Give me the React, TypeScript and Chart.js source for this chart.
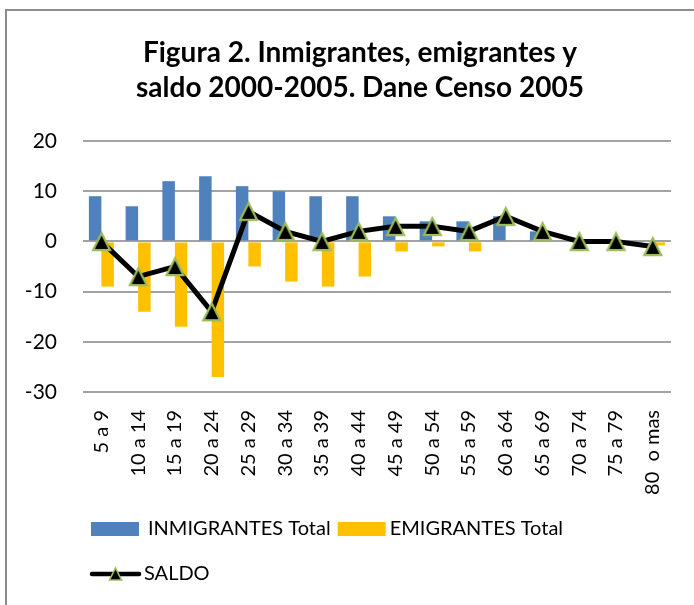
import React, { useEffect, useRef } from "react";
import { Chart, registerables } from "chart.js";

Chart.register(...registerables);

const categories = [
  "5 a 9", "10 a 14", "15 a 19", "20 a 24", "25 a 29", "30 a 34", "35 a 39", "40 a 44",
  "45 a 49", "50 a 54", "55 a 59", "60 a 64", "65 a 69", "70 a 74", "75 a 79", "80  o mas",
];
const inmigrantes = [9, 7, 12, 13, 11, 10, 9, 9, 5, 4, 4, 5, 2, 0, 0, 0];
const emigrantes = [-9, -14, -17, -27, -5, -8, -9, -7, -2, -1, -2, 0, 0, -0.5, -0.2, -0.8];
const saldo = [0, -7, -5, -14, 6, 2, 0, 2, 3, 3, 2, 5, 2, 0, 0, -1];
const yTicks = [20, 10, 0, -10, -20, -30];
const titleLines = ["Figura 2. Inmigrantes, emigrantes y", "saldo 2000-2005. Dane Censo 2005"];
const seriesNames = ["INMIGRANTES Total", "EMIGRANTES Total", "SALDO"];

const BLUE = "#4F81BD";
const YELLOW = "#FFC000";
const GREEN = "#9BBB59";
const FONT = "Lato, 'Open Sans', sans-serif";

function makeTriangle(size: number, lw: number) {
  const c = document.createElement("canvas");
  const s = size + lw * 2 + 2;
  c.width = s;
  c.height = s;
  const g = c.getContext("2d")!;
  const cx = s / 2;
  const half = size / 2;
  g.beginPath();
  g.moveTo(cx, cx - half);
  g.lineTo(cx + half, cx + half);
  g.lineTo(cx - half, cx + half);
  g.closePath();
  g.fillStyle = "#000";
  g.fill();
  g.lineWidth = lw;
  g.strokeStyle = GREEN;
  g.lineJoin = "miter";
  g.stroke();
  return c;
}

function drawTri(ctx: CanvasRenderingContext2D, x: number, y: number, size: number, lw: number) {
  const half = size / 2;
  ctx.beginPath();
  ctx.moveTo(x, y - half);
  ctx.lineTo(x + half, y + half);
  ctx.lineTo(x - half, y + half);
  ctx.closePath();
  ctx.fillStyle = "#000";
  ctx.fill();
  ctx.lineWidth = lw;
  ctx.strokeStyle = GREEN;
  ctx.stroke();
}

const legendPlugin = {
  id: "customLegend",
  afterDraw(chart: any) {
    const ctx: CanvasRenderingContext2D = chart.ctx;
    const ds = chart.data.datasets;
    ctx.save();
    ctx.font = `20px ${FONT}`;
    ctx.textBaseline = "middle";
    ctx.textAlign = "left";
    const y1 = 518;
    let x = 84;
    ctx.fillStyle = ds[0].backgroundColor;
    ctx.fillRect(x, y1 - 7, 48, 14);
    ctx.fillStyle = "#000";
    const t1x = x + 57;
    ctx.fillText(ds[0].label, t1x, y1);
    const w1 = ctx.measureText(ds[0].label).width;
    x = t1x + w1 + 7;
    ctx.fillStyle = ds[1].backgroundColor;
    ctx.fillRect(x, y1 - 7, 48, 14);
    ctx.fillStyle = "#000";
    ctx.fillText(ds[1].label, x + 52, y1);

    const y2 = 563;
    ctx.strokeStyle = ds[2].borderColor;
    ctx.lineWidth = 4.5;
    ctx.lineCap = "round";
    ctx.beginPath();
    ctx.moveTo(85, y2);
    ctx.lineTo(132, y2);
    ctx.stroke();
    drawTri(ctx, 108.5, y2, 12, 1.6);
    ctx.fillStyle = "#000";
    ctx.fillText(ds[2].label, 137, y2);
    ctx.restore();
  },
};

export default function App() {
  const ref = useRef<HTMLCanvasElement | null>(null);

  useEffect(() => {
    if (!ref.current) return;
    const tri = makeTriangle(17, 2.2);
    const chart = new Chart(ref.current, {
      type: "bar",
      data: {
        labels: categories,
        datasets: [
          {
            type: "bar",
            label: seriesNames[0],
            data: inmigrantes,
            backgroundColor: BLUE,
            categoryPercentage: 0.68,
            barPercentage: 1,
            order: 1,
          },
          {
            type: "bar",
            label: seriesNames[1],
            data: emigrantes,
            backgroundColor: YELLOW,
            categoryPercentage: 0.68,
            barPercentage: 1,
            order: 1,
          },
          {
            type: "line",
            label: seriesNames[2],
            data: saldo,
            borderColor: "#000",
            backgroundColor: "#000",
            borderWidth: 5,
            tension: 0,
            pointStyle: tri as any,
            pointRadius: 10,
            pointHoverRadius: 10,
            order: 0,
          } as any,
        ],
      },
      options: {
        responsive: false,
        animation: false,
        layout: { padding: { left: 0, right: 0, top: 0, bottom: 93 } },
        plugins: {
          legend: { display: false },
          tooltip: { enabled: false },
          title: {
            display: true,
            text: titleLines,
            color: "#000",
            font: { family: FONT, size: 28, weight: "bold", lineHeight: 1.25 },
            padding: { top: 24, bottom: 36 },
          },
        },
        scales: {
          x: {
            offset: true,
            grid: { display: false, drawTicks: false },
            border: { display: false },
            ticks: {
              autoSkip: false,
              maxRotation: 90,
              minRotation: 90,
              padding: 18,
              color: "#000",
              font: { family: FONT, size: 20 },
            },
            afterFit(scale: any) {
              scale.height = 120;
            },
          },
          y: {
            min: -30,
            max: 20,
            afterBuildTicks(scale: any) {
              scale.ticks = yTicks.map((v) => ({ value: v }));
            },
            grid: { color: "#a3a3a3", lineWidth: 2, drawTicks: false },
            border: { display: false },
            ticks: {
              padding: 26,
              color: "#000",
              font: { family: FONT, size: 21 },
            },
            afterFit(scale: any) {
              scale.width = 76;
            },
          },
          yRight: {
            type: "linear",
            position: "right",
            display: true,
            grid: { drawOnChartArea: false, drawTicks: false, display: false },
            border: { display: false },
            ticks: { display: false },
            afterFit(scale: any) {
              scale.width = 42;
            },
          },
        },
      },
      plugins: [legendPlugin],
    } as any);
    return () => chart.destroy();
  }, []);

  return (
    <div
      style={{
        position: "fixed",
        left: 5,
        top: 9,
        width: 689,
        height: 596,
        borderLeft: "2px solid #8c8c8c",
        borderTop: "2px solid #8c8c8c",
        boxSizing: "border-box",
        overflow: "hidden",
        background: "#fff",
      }}
    >
      <canvas ref={ref} width={706} height={594} style={{ display: "block", width: 706, height: 594 }} />
    </div>
  );
}
